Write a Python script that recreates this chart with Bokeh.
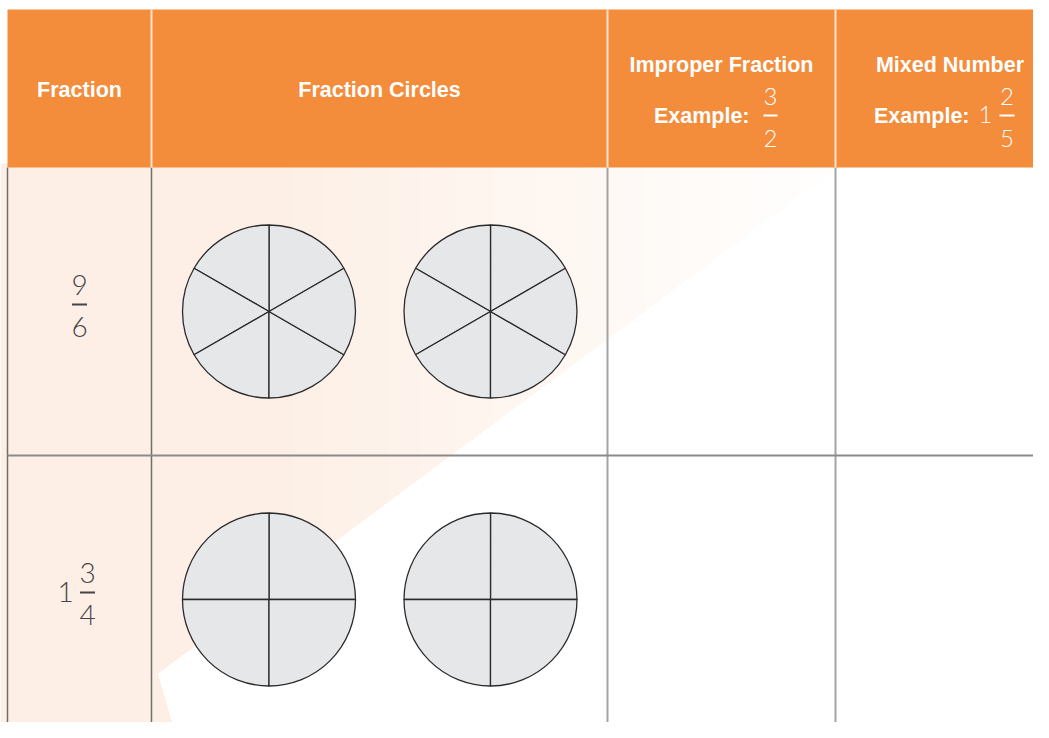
import numpy as np
from bokeh.plotting import figure
from bokeh.models import Range1d
from bokeh.core.properties import value
from bokeh.embed import file_html
from bokeh.resources import INLINE

# ---------------- data ----------------
header_titles = ["Fraction", "Fraction Circles", "Improper Fraction", "Mixed Number"]
example_label = "Example:"
improper_example = ["3", "2"]          # numerator, denominator
mixed_example = ["1", "2", "5"]        # whole, numerator, denominator
row_whole = ["", "1"]
row_numer = ["9", "3"]
row_denom = ["6", "4"]
row_parts = [6, 4]                     # pieces in each fraction circle
circles_per_row = [2, 2]

# ---------------- layout (screen px) ----------------
col_edges = [7, 151, 607, 835, 1049]
row_edges = [9, 167, 455, 743]
circle_offsets = [117.5, 339.0]
circle_radius = 86.5

ORANGE = "#F38C3B"
HEAD_FONT = value("Liberation Sans")
HEAD_SIZE = 21.5
DIGIT_FONT = value("Lato Light")
DIGIT_COLOR = "#454547"
BASE_K = 0.37   # empirical correction of the alphabetic baseline


def by(y, size):
    return y - BASE_K * size


W, H = 1033, 722
p = figure(width=W, height=H, output_backend="svg", toolbar_location=None,
           x_range=Range1d(0, W), y_range=Range1d(H, 0),
           x_axis_type=None, y_axis_type=None, min_border=0,
           outline_line_color=None, background_fill_color="white",
           border_fill_color="white")
p.grid.visible = False

# ---------------- peach background wedge with horizontal gradient ----------------
peach_poly = [(0, 163), (842, 163), (157, 673), (178, 745), (0, 745)]


def clip_half(pts, inside, inter):
    out = []
    n = len(pts)
    for i in range(n):
        a, b = pts[i - 1], pts[i]
        ia, ib = inside(a), inside(b)
        if ib:
            if not ia:
                out.append(inter(a, b))
            out.append(b)
        elif ia:
            out.append(inter(a, b))
    return out


def clip_from(pts, x0):
    def f(a, b):
        t = (x0 - a[0]) / (b[0] - a[0])
        return (x0, a[1] + t * (b[1] - a[1]))
    return clip_half(pts, lambda q: q[0] >= x0, f)


left_rgb = np.array([253, 239, 229])
xs_s, ys_s, cols_s = [], [], []
step = 4
for x0 in range(0, 845, step):
    poly = clip_from(peach_poly, x0)   # layered: each band covers everything to its right
    if len(poly) < 3:
        continue
    xc = x0 + step / 2
    t = min(max((xc - 280) / (860 - 280), 0), 1) ** 0.9
    rgb = left_rgb + (np.array([255, 255, 255]) - left_rgb) * t
    xs_s.append([q[0] for q in poly])
    ys_s.append([q[1] for q in poly])
    cols_s.append("#%02x%02x%02x" % tuple(int(round(c)) for c in rgb))
p.patches(xs_s, ys_s, fill_color=cols_s, line_color=None)

# ---------------- table grid lines ----------------
top_body = row_edges[1]
bottom = row_edges[-1]
p.segment(x0=[col_edges[0], col_edges[1]], y0=[top_body] * 2,
          x1=[col_edges[0], col_edges[1]], y1=[bottom] * 2,
          line_color="#6E6E6E", line_width=1.5)
p.segment(x0=col_edges[2:4], y0=[top_body] * 2, x1=col_edges[2:4], y1=[bottom] * 2,
          line_color="#A3A3A3", line_width=2)
p.segment(x0=[col_edges[0]], y0=[row_edges[2]], x1=[col_edges[-1]], y1=[row_edges[2]],
          line_color="#8A8A8A", line_width=2)

# ---------------- header ----------------
p.quad(left=[col_edges[0]], right=[col_edges[-1]], top=[row_edges[0]], bottom=[row_edges[1]],
       fill_color=ORANGE, line_color=None)
p.segment(x0=col_edges[1:4], y0=[row_edges[0]] * 3, x1=col_edges[1:4], y1=[row_edges[1]] * 3,
          line_color="#FCE3CD", line_width=2)

col_centers = [(col_edges[i] + col_edges[i + 1]) / 2 for i in range(4)]
col_centers[3] = 949.5
hs = HEAD_SIZE
p.text(x=col_centers[:2], y=[by(97, hs)] * 2, text=header_titles[:2],
       text_align="center", text_baseline="alphabetic", text_color="white",
       text_font=HEAD_FONT, text_font_style="bold", text_font_size=f"{hs}px")
p.text(x=col_centers[2:], y=[by(72, hs)] * 2, text=header_titles[2:],
       text_align="center", text_baseline="alphabetic", text_color="white",
       text_font=HEAD_FONT, text_font_style="bold", text_font_size=f"{hs}px")
p.text(x=[749, 969], y=[by(123, hs)] * 2, text=[example_label] * 2,
       text_align="right", text_baseline="alphabetic", text_color="white",
       text_font=HEAD_FONT, text_font_style="bold", text_font_size=f"{hs}px")
# example fractions
ds = 24
p.text(x=[770, 770, 985, 1006.5, 1006.5],
       y=[by(105, ds), by(147, ds), by(123, ds), by(105, ds), by(147, ds)],
       text=[improper_example[0], improper_example[1], mixed_example[0],
             mixed_example[1], mixed_example[2]],
       text_align="center", text_baseline="alphabetic", text_color="white",
       text_font=DIGIT_FONT, text_font_size=f"{ds}px")
p.segment(x0=[763, 999], y0=[115, 115], x1=[777, 1014], y1=[115, 115],
          line_color="white", line_width=1.8)

# ---------------- body rows ----------------
rs = 28
for r in range(len(row_numer)):
    cy = (row_edges[r + 1] + row_edges[r + 2]) / 2
    has_whole = row_whole[r] != ""
    fx = col_centers[0] + (8 if has_whole else 0)
    p.text(x=[fx, fx], y=[by(cy - 16, rs), by(cy + 26, rs)], text=[row_numer[r], row_denom[r]],
           text_align="center", text_baseline="alphabetic", text_color=DIGIT_COLOR,
           text_font=DIGIT_FONT, text_font_size=f"{rs}px")
    p.segment(x0=[fx - 7.5], y0=[cy - 7], x1=[fx + 7.5], y1=[cy - 7],
              line_color=DIGIT_COLOR, line_width=2)
    if has_whole:
        p.text(x=[col_centers[0] - 14], y=[by(cy + 3, rs)], text=[row_whole[r]],
               text_align="center", text_baseline="alphabetic", text_color=DIGIT_COLOR,
               text_font=DIGIT_FONT, text_font_size=f"{rs}px")
    # fraction circles
    n = row_parts[r]
    offset = np.pi / 6 if n == 6 else 0.0
    wx, wy, sa, ea = [], [], [], []
    for c in range(circles_per_row[r]):
        cx = col_edges[1] + circle_offsets[c]
        for k in range(n):
            wx.append(cx)
            wy.append(cy)
            sa.append(offset + 2 * np.pi * k / n)
            ea.append(offset + 2 * np.pi * (k + 1) / n)
    p.wedge(x=wx, y=wy, radius=circle_radius, start_angle=sa, end_angle=ea,
            fill_color="#E6E7E9", line_color="#2B2B2B", line_width=1.3)

open("out.html", "w").write(file_html(p, INLINE))
